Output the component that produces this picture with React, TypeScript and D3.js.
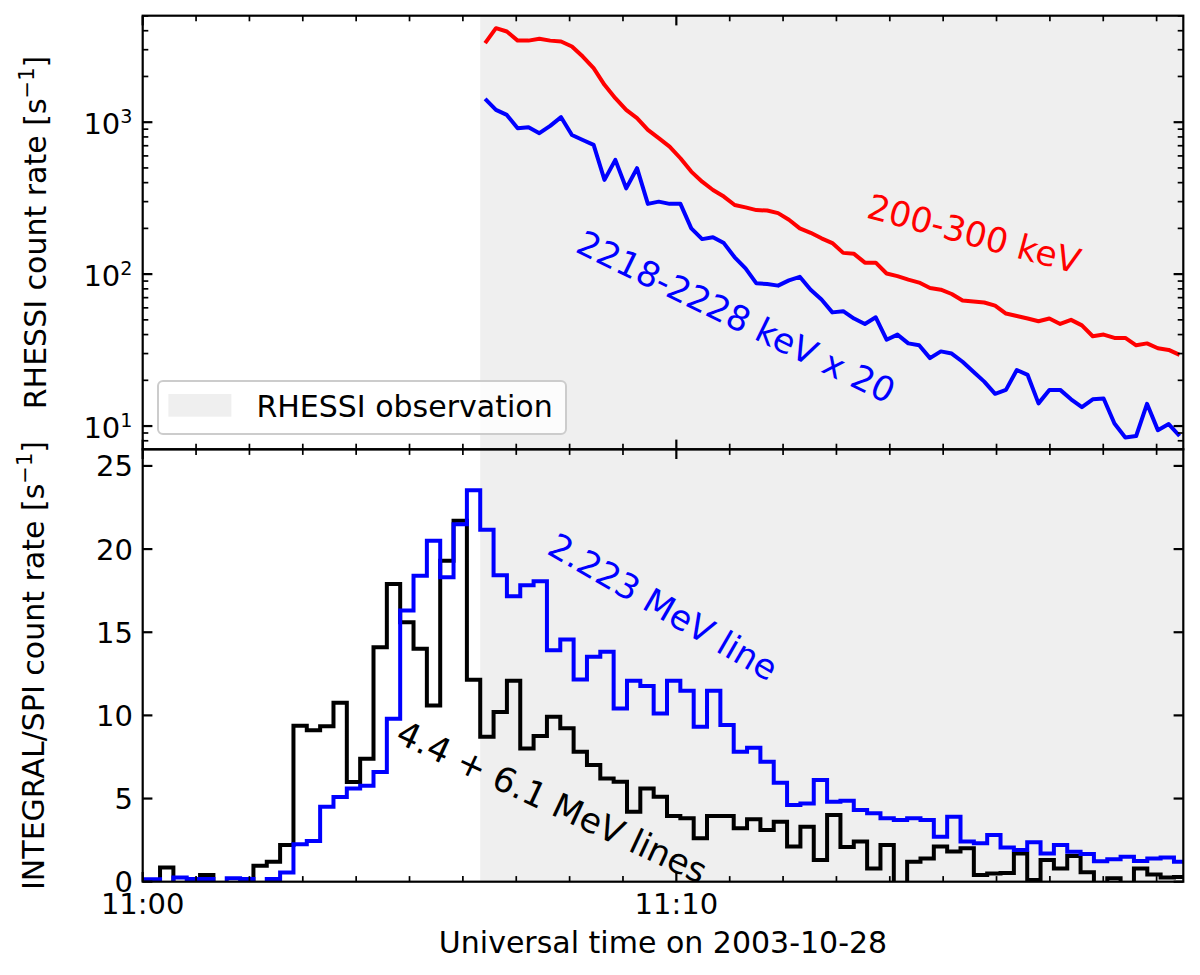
import React from 'react';
import * as d3 from 'd3';

// ---------- data ----------
const T0 = Date.UTC(2003, 9, 28, 11, 0, 0);
const xEndMinutes = 19.5;

const observationStartSec = 379.5;

const rhessiStartSec = 385;
const rhessiStepSec = 12.2;
const rhessi200to300 = [
  3311, 4159, 3953, 3443, 3443, 3538, 3443, 3396, 3148, 2704,
  2268, 1763, 1439, 1205, 1063, 889, 785, 691, 579, 473,
  406, 358, 324, 285, 275, 264, 262, 252, 228, 200,
  187, 172, 160, 138, 136, 119, 119, 101, 97, 92,
  88, 81, 79, 74, 67, 66, 65, 62, 55, 53,
  51, 49, 51, 47, 50, 46, 39, 40, 38, 38,
  34, 35, 32.5, 31.7, 29.4,
];
const rhessi2218to2228x20 = [
  1423, 1205, 1117, 912, 927, 847, 946, 1079, 824, 764,
  709, 417, 565, 367, 498, 290, 300, 290, 290, 200,
  170, 175, 160, 129, 109, 87, 86, 84, 91, 96,
  79, 68, 56, 57, 51, 47, 52, 37, 40, 35,
  34, 28, 31, 30, 26.5, 22.8, 19.6, 16.3, 17.3, 23.4,
  21.7, 14.1, 17.3, 17.3, 15.0, 13.3, 15.0, 15.2, 10.4, 8.4,
  8.6, 14.0, 9.4, 10.3, 8.6,
];

const spiFirstEdgeSec = -10.5;
const spiBinSec = 15;
const spi2223 = [
  0.15, 0.15, -0.3, 0.26, 0.16, 0.16, -0.3, 0.2, 0.16, -0.3,
  0.16, 0.56, 2.25, 2.45, 4.5, 5.1, 5.6, 5.77, 6.6, 9.8,
  16.3, 18.4, 20.5, 18.3, 21.5, 23.54, 21.17, 18.43, 17.17, 17.83,
  18.07, 13.92, 14.57, 12.16, 13.52, 13.82, 10.42, 12.08, 11.76, 10.12,
  12.08, 11.48, 9.32, 11.48, 9.42, 7.81, 8.05, 7.21, 5.95, 4.61,
  4.7, 6.11, 4.81, 4.87, 4.31, 4.11, 3.81, 3.71, 3.81, 3.71,
  2.71, 3.91, 2.41, 2.31, 2.81, 2.05, 1.9, 2.37, 1.7, 2.2,
  1.8, 1.67, 1.23, 1.35, 1.5, 1.25, 1.4, 1.46, 1.2,
];
const spi44plus61 = [
  -0.3, -0.3, 0.86, -0.3, -0.3, 0.4, -0.3, -0.3, -0.3, 0.96,
  1.2, 2.2, 9.38, 9.11, 9.35, 10.76, 6.0, 7.4, 14.1, 17.9,
  15.6, 14.0, 10.6, 19.3, 21.7, 12.15, 8.72, 10.2, 12.08, 8.01,
  8.76, 9.92, 9.22, 7.81, 7.01, 6.21, 6.01, 4.21, 5.61, 5.11,
  3.95, 3.81, 2.61, 3.95, 3.95, 3.21, 3.75, 3.11, 3.61, 2.11,
  3.31, 1.3, 4.01, 2.09, 2.41, 0.8, 2.21, -0.5, 1.2, 1.4,
  2.11, 1.81, 2.01, 0.4, 0.5, 0.52, 1.7, 0.1, 1.3, 0.8,
  1.55, 0.57, -0.4, 0.2, -0.3, 0.8, 0.43, 0.25, 0.28,
];

const xTickLabelMinutes = [0, 10];
const yTopDomain = [7.03, 5023];
const yBotDomain = [0, 26];
const yBotTicks = [0, 5, 10, 15, 20, 25];

// ---------- layout ----------
const W = 1200;
const H = 975;
const L = 142.7;
const R = 1183.3;
const T1 = 15.7;
const B1 = 449.3;
const T2 = 449.3;
const B2 = 881.7;
const FONT = 'DejaVu Sans';
const TICK_FS = 29;
const LABEL_FS = 30;
const ANNOT_FS = 34.5;
const SHADE = '#efefef';
const MAJ = 9.7;
const MIN = 5.6;

const sec = (s: number) => new Date(T0 + s * 1000);

export default function App() {
  const x = d3.scaleUtc().domain([new Date(T0), sec(xEndMinutes * 60)]).range([L, R]);
  const yTop = d3.scaleLog().domain(yTopDomain).range([B1, T1]);
  const yBot = d3.scaleLinear().domain(yBotDomain).range([B2, T2]);

  const rhessiT = rhessi200to300.map((_, i) => sec(rhessiStartSec + i * rhessiStepSec));
  const lineTop = d3
    .line<number>()
    .x((_, i) => x(rhessiT[i]))
    .y((d) => yTop(d));

  const histPath = (vals: number[]) => {
    const pts: [number, number][] = vals.map((v, i) => [
      x(sec(spiFirstEdgeSec + i * spiBinSec)),
      yBot(v),
    ]);
    pts.push([x(sec(spiFirstEdgeSec + vals.length * spiBinSec)), yBot(vals[vals.length - 1])]);
    return d3.line().curve(d3.curveStepAfter)(pts) || '';
  };

  const minuteTicks = x.ticks(d3.utcMinute.every(1) as any);
  const isMajorMinute = (d: Date) => xTickLabelMinutes.includes((d.getTime() - T0) / 60000);
  const fmt = d3.utcFormat('%H:%M');

  const logTicks = yTop.ticks().filter((v) => v >= yTopDomain[0] && v <= yTopDomain[1]);
  const isDecade = (v: number) => Math.abs(Math.log10(v) - Math.round(Math.log10(v))) < 1e-9;

  const xShade = x(sec(observationStartSec));

  const xTicksFor = (top: number, bottom: number, key: string) =>
    minuteTicks.map((d, i) => {
      const xx = x(d);
      const len = isMajorMinute(d) ? MAJ : MIN;
      const sw = isMajorMinute(d) ? 2.2 : 1.7;
      return (
        <g key={key + i}>
          <line x1={xx} x2={xx} y1={bottom} y2={bottom - len} stroke="#000" strokeWidth={sw} />
          <line x1={xx} x2={xx} y1={top} y2={top + len} stroke="#000" strokeWidth={sw} />
        </g>
      );
    });

  return (
    <div style={{ position: 'absolute', left: 0, top: 0 }}>
      <svg width={W} height={H} viewBox={`0 0 ${W} ${H}`} style={{ display: 'block', fontFamily: FONT }}>
        <defs>
          <clipPath id="clipTop">
            <rect x={L} y={T1} width={R - L} height={B1 - T1} />
          </clipPath>
          <clipPath id="clipBot">
            <rect x={L} y={T2} width={R - L} height={B2 - T2} />
          </clipPath>
        </defs>
        <rect x={0} y={0} width={W} height={H} fill="#fff" />

        {/* shaded RHESSI observation */}
        <rect x={xShade} y={T1} width={R - xShade} height={B1 - T1} fill={SHADE} />
        <rect x={xShade} y={T2} width={R - xShade} height={B2 - T2} fill={SHADE} />

        {/* top panel lines */}
        <g clipPath="url(#clipTop)" fill="none" strokeWidth={4} strokeLinejoin="round" strokeLinecap="butt">
          <path d={lineTop(rhessi200to300) || ''} stroke="#ff0000" />
          <path d={lineTop(rhessi2218to2228x20) || ''} stroke="#0000ff" />
        </g>

        {/* bottom panel histograms */}
        <g clipPath="url(#clipBot)" fill="none" strokeWidth={4} strokeLinejoin="miter">
          <path d={histPath(spi44plus61)} stroke="#000" />
          <path d={histPath(spi2223)} stroke="#0000ff" />
        </g>

        {/* annotations */}
        <text
          transform={`translate(974,234) rotate(15)`}
          textAnchor="middle"
          dominantBaseline="central"
          fontSize={ANNOT_FS}
          fill="#ff0000"
        >
          200-300 keV
        </text>
        <text
          transform={`translate(736,317) rotate(26)`}
          textAnchor="middle"
          dominantBaseline="central"
          fontSize={ANNOT_FS}
          fill="#0000ff"
        >
          2218-2228 keV x 20
        </text>
        <text
          transform={`translate(663,607) rotate(30)`}
          textAnchor="middle"
          dominantBaseline="central"
          fontSize={ANNOT_FS}
          fill="#0000ff"
        >
          2.223 MeV line
        </text>
        <text
          transform={`translate(552,802) rotate(25)`}
          textAnchor="middle"
          dominantBaseline="central"
          fontSize={ANNOT_FS}
          fill="#000"
        >
          4.4 + 6.1 MeV lines
        </text>

        {/* legend */}
        <rect x={158} y={381} width={408} height={53} rx={5} fill="#fff" fillOpacity={0.8} stroke="#cccccc" strokeWidth={2} />
        <rect x={168.4} y={394} width={63} height={22.7} fill={SHADE} />
        <text x={256.4} y={417} fontSize={LABEL_FS} fill="#000">
          RHESSI observation
        </text>

        {/* x ticks both panels */}
        {xTicksFor(T1, B1, 't')}
        {xTicksFor(T2, B2, 'b')}

        {/* top y ticks (log) */}
        {logTicks.map((v, i) => {
          const yy = yTop(v);
          const maj = isDecade(v);
          const len = maj ? MAJ : MIN;
          const sw = maj ? 2.2 : 1.7;
          return (
            <g key={'ly' + i}>
              <line x1={L} x2={L + len} y1={yy} y2={yy} stroke="#000" strokeWidth={sw} />
              <line x1={R} x2={R - len} y1={yy} y2={yy} stroke="#000" strokeWidth={sw} />
              {maj && (
                <text x={132.5} y={yy + 11.5} textAnchor="end" fontSize={TICK_FS} fill="#000">
                  10
                  <tspan dy={-10.5} fontSize={TICK_FS * 0.66}>
                    {String(Math.round(Math.log10(v)))}
                  </tspan>
                </text>
              )}
            </g>
          );
        })}

        {/* bottom y ticks */}
        {yBotTicks.map((v, i) => {
          const yy = yBot(v);
          return (
            <g key={'by' + i}>
              <line x1={L} x2={L + MAJ} y1={yy} y2={yy} stroke="#000" strokeWidth={2.2} />
              <line x1={R} x2={R - MAJ} y1={yy} y2={yy} stroke="#000" strokeWidth={2.2} />
              <text x={133} y={yy + 10.5} textAnchor="end" fontSize={TICK_FS} fill="#000">
                {v}
              </text>
            </g>
          );
        })}

        {/* x tick labels */}
        {minuteTicks.filter(isMajorMinute).map((d, i) => (
          <text key={'xl' + i} x={x(d)} y={914} textAnchor="middle" fontSize={TICK_FS} fill="#000">
            {fmt(d)}
          </text>
        ))}

        {/* spines */}
        <rect x={L} y={T1} width={R - L} height={B1 - T1} fill="none" stroke="#000" strokeWidth={2.2} />
        <rect x={L} y={T2} width={R - L} height={B2 - T2} fill="none" stroke="#000" strokeWidth={2.2} />

        {/* axis labels */}
        <text x={(L + R) / 2} y={953} textAnchor="middle" fontSize={LABEL_FS} fill="#000">
          Universal time on 2003-10-28
        </text>
        <text transform={`translate(46,${(T1 + B1) / 2}) rotate(-90)`} textAnchor="middle" fontSize={LABEL_FS} fill="#000">
          RHESSI count rate [s
          <tspan dy={-12} fontSize={LABEL_FS * 0.7}>−1</tspan>
          <tspan dy={12}>]</tspan>
        </text>
        <text transform={`translate(44,${(T2 + B2) / 2}) rotate(-90)`} textAnchor="middle" fontSize={LABEL_FS} fill="#000">
          INTEGRAL/SPI count rate [s
          <tspan dy={-12} fontSize={LABEL_FS * 0.7}>−1</tspan>
          <tspan dy={12}>]</tspan>
        </text>
      </svg>
    </div>
  );
}
